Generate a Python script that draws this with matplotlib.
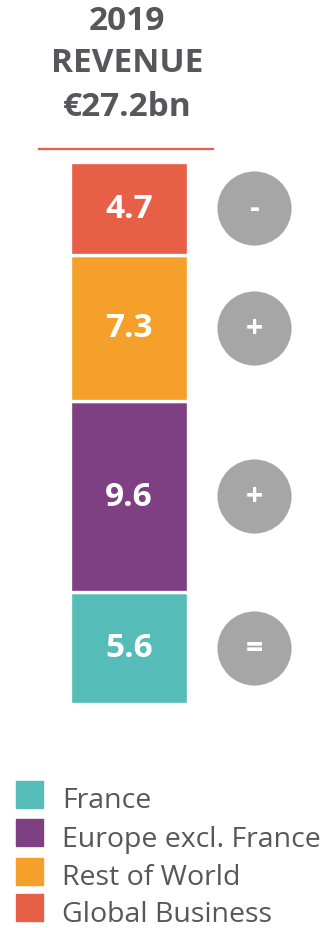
import matplotlib
matplotlib.use("Agg")
import matplotlib.pyplot as plt
from matplotlib.lines import Line2D
from matplotlib.patches import Rectangle

# Revenue breakdown, bottom to top of the stack
regions = ["France", "Europe excl. France", "Rest of World", "Global Business"]
revenue = [5.6, 9.6, 7.3, 4.7]
trend = ["=", "+", "+", "-"]
colors = ["#56BCB8", "#7E4083", "#F4A02A", "#E85F48"]
title_lines = ["2019", "REVENUE", "\u20ac27.2bn"]

W, H = 331, 929
DPI = 100
TEXT = "#56565C"
plt.rcParams["font.family"] = ["Open Sans", "DejaVu Sans"]

fig = plt.figure(figsize=(W / DPI, H / DPI), dpi=DPI)


def fx(px):
    return px / W


def fy(py):
    return 1 - py / H


# Axes spanning the stacked bar: x in pixels, y in revenue units
bar_top, bar_bot = 162.5, 704.5
ax = fig.add_axes([0, fy(bar_bot), 1, (bar_bot - bar_top) / H])
ax.set_xlim(0, W)
total = sum(revenue)
ax.set_ylim(0, total)
ax.axis("off")

bottom = 0.0
for val, col, sign in zip(revenue, colors, trend):
    ax.bar(129, val, bottom=bottom, width=117.5, color=col,
           edgecolor="white", linewidth=2.4, clip_on=False)
    mid = bottom + val / 2
    ax.text(129, mid, f"{val:.1f}", ha="center", va="center",
            color="white", fontsize=24, fontweight="bold")
    ax.scatter([254], [mid], s=2850, color="#A6A6A6", clip_on=False,
               linewidths=0, zorder=3)
    ax.text(254, mid, sign, ha="center", va="center", color="white",
            fontsize=22, fontweight="bold", zorder=4)
    bottom += val

# Title block
for line, y in zip(title_lines, [21, 63, 108]):
    fig.text(fx(127), fy(y), line, ha="center", va="center",
             color=TEXT, fontsize=24, fontweight="bold")
fig.add_artist(Line2D([fx(39), fx(213)], [fy(150), fy(150)],
                      color="#E85F48", linewidth=1.6))

# Legend (rows given by text baseline)
legend_rows = [808.5, 847, 885.5, 922]
for name, col, y in zip(regions, colors, legend_rows):
    fig.add_artist(Rectangle((fx(16), fy(y)), 27 / W, 27 / H,
                             color=col, transform=fig.transFigure))
    fig.text(fx(62), fy(y), name, ha="left", va="baseline",
             color=TEXT, fontsize=20.5)

fig.savefig("out.png", dpi=DPI)
